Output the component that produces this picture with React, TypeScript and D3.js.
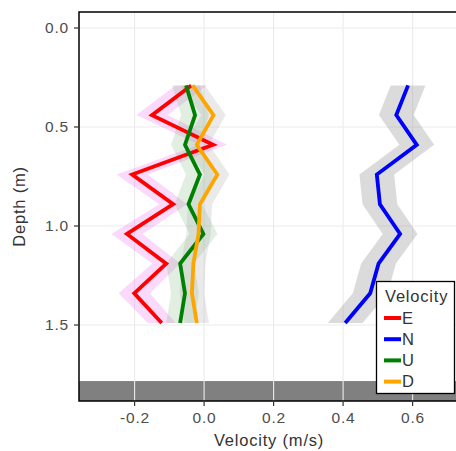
import React from "react";
import * as d3 from "d3";

const depths = [0.29, 0.44, 0.59, 0.74, 0.89, 1.04, 1.19, 1.34, 1.49];
const velE = [-0.037, -0.15, 0.026, -0.207, -0.089, -0.222, -0.109, -0.201, -0.122];
const velN = [0.587, 0.553, 0.612, 0.497, 0.506, 0.564, 0.502, 0.478, 0.406];
const velU = [-0.052, -0.026, -0.055, -0.012, -0.045, -0.002, -0.069, -0.055, -0.069];
const velD = [-0.033, 0.027, -0.021, 0.038, -0.012, -0.016, -0.031, -0.035, -0.021];
const errE = [0.045, 0.045, 0.04, 0.045, 0.04, 0.045, 0.04, 0.045, 0.04];
const errN = [0.05, 0.05, 0.05, 0.05, 0.05, 0.05, 0.05, 0.05, 0.05];
const errU = [0.04, 0.04, 0.04, 0.04, 0.04, 0.04, 0.04, 0.04, 0.04];
const errD = [0.035, 0.035, 0.035, 0.035, 0.035, 0.035, 0.035, 0.035, 0.035];
const seriesNames = ["E", "N", "U", "D"];
const lineColors = ["#ff0000", "#0000ff", "#008000", "#ffa500"];
const ribbonColors = ["#ee66ee", "#999999", "#88bb88", "#aaaaaa"];
const ribbonOpacity = [0.25, 0.35, 0.25, 0.25];
const xTicks = [-0.2, 0.0, 0.2, 0.4, 0.6];
const yTicks = [0.0, 0.5, 1.0, 1.5];
const bedDepth = 1.783;

const W = 456;
const H = 451;
const left = 79;
const top = 12;
const bottom = 401;

export default function App() {
  const x = d3.scaleLinear().domain([-0.36, 0.76]).range([left, 468.2]);
  const y = d3.scaleLinear().domain([-0.0808, 1.8838]).range([top, bottom]);
  const vals = [velE, velN, velU, velD];
  const errs = [errE, errN, errU, errD];

  const line = d3
    .line<[number, number]>()
    .x((d) => x(d[0]))
    .y((d) => y(d[1]));
  const area = d3
    .area<[number, number, number]>()
    .y((d) => y(d[0]))
    .x0((d) => x(d[1] - d[2]))
    .x1((d) => x(d[1] + d[2]));

  const tickColor = "#4d4d4d";
  const font = "Liberation Sans, Arial, sans-serif";
  const tickFs = 15.5;
  const tickLs = 0.8;
  const titleFs = 16.5;
  const titleLs = 0.8;

  return (
    <svg
      width={W}
      height={H}
      style={{ position: "absolute", left: 0, top: 0 }}
      fontFamily={font}
    >
      <rect x={0} y={0} width={W} height={H} fill="white" />
      <defs>
        <clipPath id="panel">
          <rect x={left} y={top} width={W - left + 20} height={bottom - top} />
        </clipPath>
      </defs>
      <g clipPath="url(#panel)">
        <rect
          x={left}
          y={y(bedDepth)}
          width={W - left + 20}
          height={bottom - y(bedDepth)}
          fill="#808080"
        />
        {xTicks.map((t) => (
          <line
            key={"gx" + t}
            x1={x(t)}
            x2={x(t)}
            y1={top}
            y2={bottom}
            stroke="#ebebeb"
            strokeWidth={1.1}
          />
        ))}
        {yTicks.map((t) => (
          <line
            key={"gy" + t}
            x1={left}
            x2={W + 20}
            y1={y(t)}
            y2={y(t)}
            stroke="#ebebeb"
            strokeWidth={1.1}
          />
        ))}
        {vals.map((v, i) => (
          <path
            key={"r" + i}
            d={area(depths.map((dd, k) => [dd, v[k], errs[i][k]]))!}
            fill={ribbonColors[i]}
            fillOpacity={ribbonOpacity[i]}
            stroke="none"
          />
        ))}
        {vals.map((v, i) => (
          <path
            key={"l" + i}
            d={line(depths.map((dd, k) => [v[k], dd]))!}
            fill="none"
            stroke={lineColors[i]}
            strokeWidth={3.8}
            strokeLinejoin="miter"
          />
        ))}
      </g>
      <rect
        x={left}
        y={top}
        width={W - left + 20}
        height={bottom - top}
        fill="none"
        stroke="#000"
        strokeWidth={1.5}
      />
      {yTicks.map((t) => (
        <g key={"yt" + t}>
          <line x1={left - 5} x2={left} y1={y(t)} y2={y(t)} stroke="#333" strokeWidth={1.2} />
          <text
            x={left - 10}
            y={y(t)}
            dy="0.35em"
            textAnchor="end"
            fontSize={tickFs}
            letterSpacing={tickLs}
            fill={tickColor}
          >
            {t.toFixed(1)}
          </text>
        </g>
      ))}
      {xTicks.map((t) => (
        <g key={"xt" + t}>
          <line x1={x(t)} x2={x(t)} y1={bottom} y2={bottom + 5} stroke="#333" strokeWidth={1.2} />
          <text
            x={x(t) + tickLs / 2}
            y={bottom + 17}
            dy="0.35em"
            textAnchor="middle"
            fontSize={tickFs}
            letterSpacing={tickLs}
            fill={tickColor}
          >
            {t.toFixed(1)}
          </text>
        </g>
      ))}
      <text
        x={269}
        y={440}
        dy="0.35em"
        textAnchor="middle"
        fontSize={titleFs}
        letterSpacing={titleLs}
        fill="#333"
      >
        Velocity (m/s)
      </text>
      <text
        transform={`translate(19,${(top + bottom) / 2}) rotate(-90)`}
        dy="0.35em"
        textAnchor="middle"
        fontSize={titleFs}
        letterSpacing={titleLs}
        fill="#333"
      >
        Depth (m)
      </text>
      <g>
        <rect x={376.5} y={281.5} width={78} height={112} fill="white" stroke="#000" strokeWidth={1.3} />
        <text x={385} y={296} dy="0.35em" fontSize={titleFs} letterSpacing={titleLs} fill="#333">
          Velocity
        </text>
        {seriesNames.map((n, i) => (
          <g key={"lg" + n}>
            <line
              x1={384}
              x2={401}
              y1={318 + i * 21.2}
              y2={318 + i * 21.2}
              stroke={lineColors[i]}
              strokeWidth={4}
            />
            <text x={402} y={318 + i * 21.2} dy="0.35em" fontSize={titleFs} letterSpacing={titleLs} fill="#333">
              {n}
            </text>
          </g>
        ))}
      </g>
    </svg>
  );
}
